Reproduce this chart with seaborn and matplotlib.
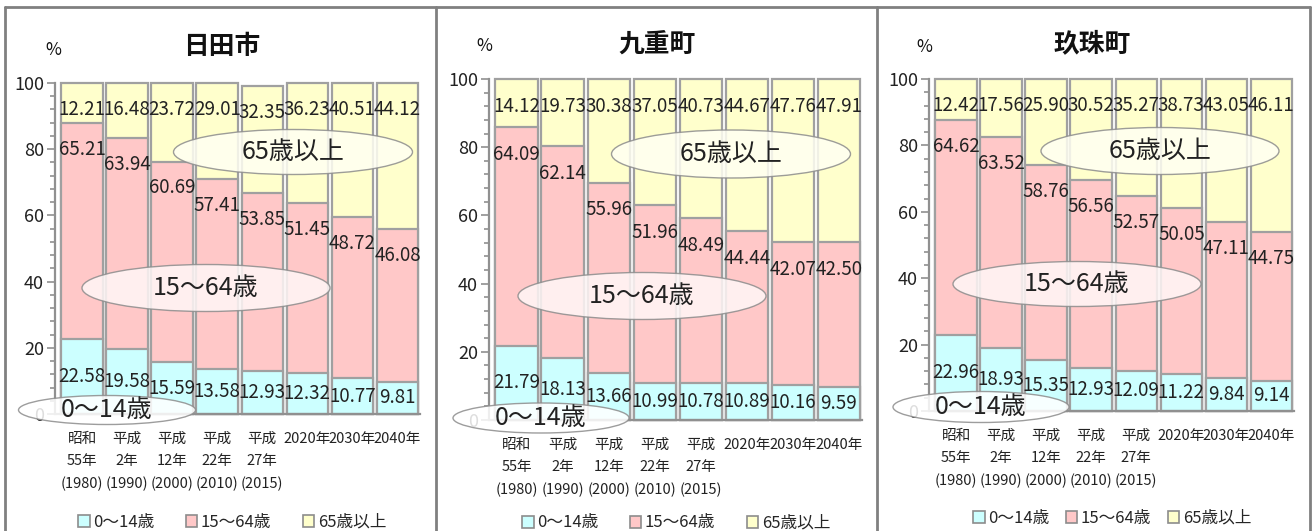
import matplotlib
matplotlib.use('Agg')
import matplotlib.pyplot as plt
from matplotlib import font_manager
from matplotlib.patches import Ellipse, Patch
from matplotlib.lines import Line2D
from matplotlib.ticker import MultipleLocator
import pandas as pd
import seaborn as sns

# データ
years = ['昭和\n55年\n(1980)', '平成\n2年\n(1990)', '平成\n12年\n(2000)', '平成\n22年\n(2010)',
         '平成\n27年\n(2015)', '2020年', '2030年', '2040年']
groups = ['0〜14歳', '15〜64歳', '65歳以上']
towns = ['日田市', '九重町', '玖珠町']

hita_young = [22.58, 19.58, 15.59, 13.58, 12.93, 12.32, 10.77, 9.81]
hita_work = [65.21, 63.94, 60.69, 57.41, 53.85, 51.45, 48.72, 46.08]
hita_old = [12.21, 16.48, 23.72, 29.01, 32.35, 36.23, 40.51, 44.12]

kokonoe_young = [21.79, 18.13, 13.66, 10.99, 10.78, 10.89, 10.16, 9.59]
kokonoe_work = [64.09, 62.14, 55.96, 51.96, 48.49, 44.44, 42.07, 42.50]
kokonoe_old = [14.12, 19.73, 30.38, 37.05, 40.73, 44.67, 47.76, 47.91]

kusu_young = [22.96, 18.93, 15.35, 12.93, 12.09, 11.22, 9.84, 9.14]
kusu_work = [64.62, 63.52, 58.76, 56.56, 52.57, 50.05, 47.11, 44.75]
kusu_old = [12.42, 17.56, 25.90, 30.52, 35.27, 38.73, 43.05, 46.11]

series = [(hita_young, hita_work, hita_old),
          (kokonoe_young, kokonoe_work, kokonoe_old),
          (kusu_young, kusu_work, kusu_old)]

colors = ['#ccffff', '#ffc8c8', '#ffffcc']
edge = '#a0a0a0'

sns.set_style('white')
plt.rcParams['font.family'] = ['Noto Sans CJK JP', 'DejaVu Sans']

installed = {f.name for f in font_manager.fontManager.ttflist}
num_font = ['Liberation Sans Narrow', 'Noto Sans CJK JP'] if 'Liberation Sans Narrow' in installed else ['Noto Sans CJK JP']

W, H = 1312, 531
fig = plt.figure(figsize=(W / 100, H / 100), dpi=100)
fig.patch.set_facecolor('white')

# レイアウト (ピクセル): 軸の左, 右, 上, 下
boxes = [(55, 420, 83, 414), (489, 862, 79, 420), (929, 1294, 79, 411)]
title_pos = [(222, 46), (657, 44), (1092, 44)]
pct_pos = [(53, 50), (484, 46), (924, 47)]
ell_old = [(293, 152, 239, 45), (731, 154, 239, 48), (1160, 151, 238, 47)]
ell_work = [(206, 288, 248, 47), (642, 296, 248, 47), (1077, 284, 248, 45)]
ell_young = [(107, 410, 177, 29), (541, 418, 176, 30), (981, 407, 176, 31)]
leg_pos = [(232, 522, 1.9), (676, 523, 1.9), (1112, 518, 1.0)]


def fx(x):
    return x / W


def fy(y):
    return 1 - y / H


for i, town in enumerate(towns):
    young, work, old = series[i]
    l, r, t, b = boxes[i]
    ax = fig.add_axes([fx(l), fy(b), (r - l) / W, (b - t) / H])

    df = pd.DataFrame({'year': years, 'young': young, 'work': work, 'old': old})
    df['mid'] = df['young'] + df['work']
    df['total'] = df['mid'] + df['old']

    for col, c in zip(['total', 'mid', 'young'], colors[::-1]):
        sns.barplot(data=df, x='year', y=col, order=years, color=c, saturation=1,
                    edgecolor=edge, linewidth=1.6, width=0.92, errorbar=None, ax=ax)
    for p in ax.patches:
        p.set_clip_on(False)

    # データラベル
    for j in range(len(years)):
        ax.text(j, df['young'][j] / 2, f"{young[j]:.2f}", ha='center', va='center',
                fontsize=13.5, family=num_font, color='#222222', zorder=5)
        ax.text(j, df['mid'][j] - 8, f"{work[j]:.2f}", ha='center', va='center',
                fontsize=13.5, family=num_font, color='#222222', zorder=5)
        ax.text(j, df['total'][j] - 8, f"{old[j]:.2f}", ha='center', va='center',
                fontsize=13.5, family=num_font, color='#222222', zorder=5)

    ax.set_xlim(-0.6, 7.5)
    ax.set_ylim(0, 100)
    ax.set_xlabel('')
    ax.set_ylabel('')
    ax.set_yticks([0, 20, 40, 60, 80, 100])
    ax.yaxis.set_minor_locator(MultipleLocator(4))
    ax.tick_params(axis='y', which='major', direction='out', length=6, width=1.2,
                   color='#909090', labelsize=13, pad=2, left=True)
    ax.tick_params(axis='y', which='minor', direction='out', length=3.5, width=1.2,
                   color='#909090', left=True)
    ax.tick_params(axis='x', length=0, pad=13, labelsize=10.5)
    for lbl in ax.get_yticklabels():
        lbl.set_family(num_font)
        lbl.set_color('#222222')
    for lbl in ax.get_xticklabels():
        lbl.set_linespacing(1.75)
        lbl.set_color('#222222')
    for s in ['top', 'right']:
        ax.spines[s].set_visible(False)
    for s in ['left', 'bottom']:
        ax.spines[s].set_color('#909090')
        ax.spines[s].set_linewidth(1.6)

    # タイトルと単位
    fig.text(fx(title_pos[i][0]), fy(title_pos[i][1]), town, ha='center', va='center',
             fontsize=18.5, fontweight='bold', color='#111111')
    fig.text(fx(pct_pos[i][0]), fy(pct_pos[i][1]), '%', ha='center', va='center',
             fontsize=12.5, color='#111111')

    # 楕円の注記
    for (cx, cy, ew, eh), txt, fc in [(ell_old[i], '65歳以上', '#fffff2'),
                                      (ell_work[i], '15〜64歳', '#fff6f6'),
                                      (ell_young[i], '0〜14歳', '#ffffff')]:
        fig.add_artist(Ellipse((fx(cx), fy(cy)), ew / W, eh / H, transform=fig.transFigure,
                               facecolor=fc, edgecolor='#8c8c8c', linewidth=1.0,
                               alpha=0.85, zorder=3))
        fig.text(fx(cx), fy(cy), txt, ha='center', va='center', fontsize=18,
                 color='#222222', zorder=4)

    # 凡例
    handles = [Patch(facecolor=c, edgecolor='#8c8c8c', linewidth=1.2) for c in colors]
    lx, ly, cs = leg_pos[i]
    ax.legend(handles, groups, loc='center', bbox_to_anchor=(fx(lx), fy(ly)),
              bbox_transform=fig.transFigure, ncol=3, frameon=False, fontsize=12,
              handlelength=0.7, handleheight=0.7, handletextpad=0.2, columnspacing=cs,
              borderaxespad=0, borderpad=0)

# 枠線
for x in [5, 436, 877, 1310]:
    fig.add_artist(Line2D([fx(x), fx(x)], [fy(7), 0], transform=fig.transFigure,
                          color='#808080', linewidth=2))
fig.add_artist(Line2D([fx(5), fx(1310)], [fy(7), fy(7)], transform=fig.transFigure,
                      color='#808080', linewidth=2))

plt.savefig('out.png', dpi=100)
